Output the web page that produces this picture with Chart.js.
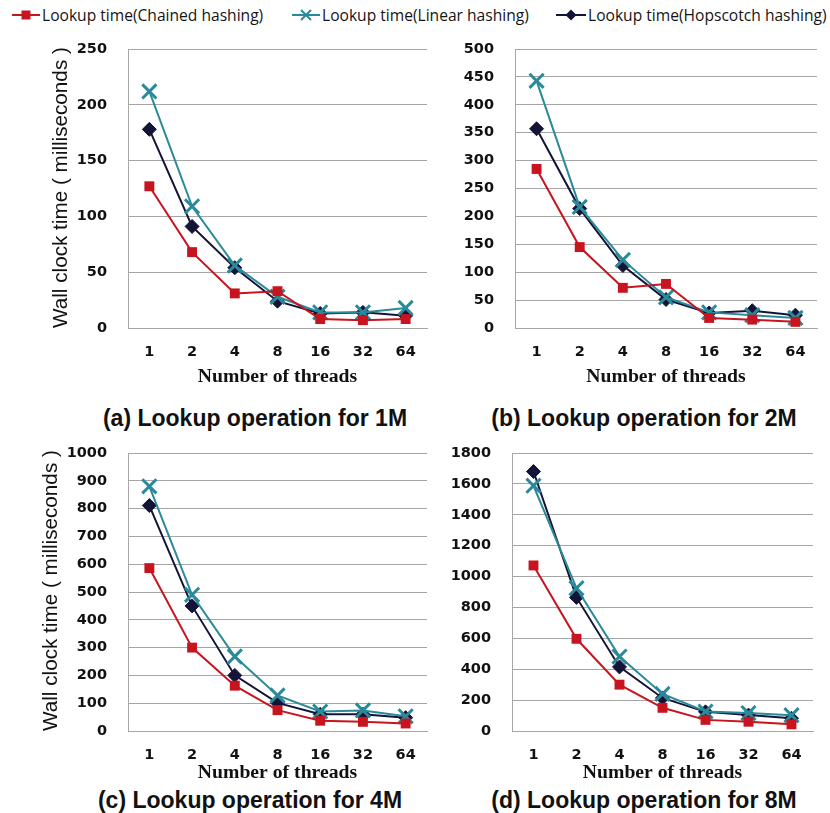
<!DOCTYPE html>
<html>
<head>
<meta charset="utf-8">
<script src="https://cdn.jsdelivr.net/npm/chart.js@4.4.0/dist/chart.umd.min.js"></script>
<style>
  body { margin: 0; background: #fff; }
  #page { position: relative; width: 830px; height: 813px; overflow: hidden; background: #fff; }
  #page canvas { position: absolute; }
  .leg { position: absolute; top: 4px; height: 22px; display: flex; align-items: center; font: 15.6px "Open Sans", sans-serif; color: #151515; white-space: nowrap; }
  .leg svg { margin-right: 2px; }
  .sub { position: absolute; width: 360px; text-align: center; font: bold 23px "Liberation Sans", Arial, sans-serif; line-height: 26px; color: #111; white-space: nowrap; }
</style>
</head>
<body>
<div id="page">
  <div class="leg" style="left:12px">
    <svg width="28" height="14"><line x1="0" y1="7" x2="28" y2="7" stroke="#c8141e" stroke-width="2"/><rect x="9.5" y="2.5" width="9" height="9" fill="#c8141e"/></svg>Lookup time(Chained hashing)
  </div>
  <div class="leg" style="left:292px">
    <svg width="28" height="14"><line x1="0" y1="7" x2="28" y2="7" stroke="#2b8a99" stroke-width="2"/><path d="M9 2 L19 12 M19 2 L9 12" stroke="#2b8a99" stroke-width="2"/></svg>Lookup time(Linear hashing)
  </div>
  <div class="leg" style="left:556px">
    <svg width="30" height="14"><line x1="0" y1="7" x2="30" y2="7" stroke="#141438" stroke-width="2"/><path d="M15 1.5 L20.5 7 L15 12.5 L9.5 7 Z" fill="#141438"/></svg>Lookup time(Hopscotch hashing)
  </div>

  <canvas id="c1M" width="440" height="358" style="left:0;top:36px"></canvas>
  <canvas id="c2M" width="390" height="358" style="left:440px;top:36px"></canvas>
  <canvas id="c4M" width="440" height="345" style="left:0;top:440px"></canvas>
  <canvas id="c8M" width="390" height="345" style="left:440px;top:440px"></canvas>

  <div class="sub" style="left:75px;top:405px">(a) Lookup operation for 1M</div>
  <div class="sub" style="left:464px;top:405px">(b) Lookup operation for 2M</div>
  <div class="sub" style="left:70px;top:787px">(c) Lookup operation for 4M</div>
  <div class="sub" style="left:464px;top:787px">(d) Lookup operation for 8M</div>
</div>

<script>
// x categories (number of threads)
const threads = ["1", "2", "4", "8", "16", "32", "64"];

// 1M keys
const chained1M = [127, 68, 31, 33, 8, 7, 8];
const linear1M = [212, 109, 56, 28, 14, 14, 18];
const hop1M = [178, 91, 54, 24, 13, 14, 11];

// 2M keys
const chained2M = [285, 145, 72, 79, 18, 15, 11];
const linear2M = [443, 217, 122, 55, 28, 23, 18];
const hop2M = [357, 214, 112, 51, 27, 31, 23];

// 4M keys
const chained4M = [586, 300, 163, 75, 37, 33, 27];
const linear4M = [880, 490, 268, 128, 70, 74, 53];
const hop4M = [811, 450, 200, 101, 60, 60, 48];

// 8M keys
const chained8M = [1072, 597, 300, 150, 72, 60, 43];
const linear8M = [1588, 925, 482, 240, 126, 116, 102];
const hop8M = [1680, 865, 415, 214, 124, 103, 82];

const RED = "#c8141e";
const TEAL = "#2b8a99";
const NAVY = "#141438";
const GRID = "#a6a6a6";

function makeChart(id, chained, linear, hop, yMax, yStep, g) {
  const ctx = document.getElementById(id).getContext("2d");
  return new Chart(ctx, {
    type: "line",
    data: {
      labels: threads,
      datasets: [
        { label: "Lookup time(Chained hashing)", data: chained, borderColor: RED, backgroundColor: RED,
          borderWidth: 2, pointStyle: "rect", pointRadius: 7, pointBorderWidth: 0 },
        { label: "Lookup time(Linear hashing)", data: linear, borderColor: TEAL, backgroundColor: TEAL,
          borderWidth: 2, pointStyle: "crossRot", pointRadius: 10, pointBorderWidth: 3 },
        { label: "Lookup time(Hopscotch hashing)", data: hop, borderColor: NAVY, backgroundColor: NAVY,
          borderWidth: 2, pointStyle: "rectRot", pointRadius: 7, pointBorderWidth: 1 }
      ]
    },
    options: {
      responsive: false,
      animation: false,
      devicePixelRatio: 1,
      layout: { padding: { left: 0, top: g.padTop, right: g.padRight, bottom: 0 } },
      plugins: { legend: { display: false }, tooltip: { enabled: false } },
      scales: {
        x: {
          offset: true,
          grid: { display: false, drawTicks: false },
          border: { display: true, color: GRID },
          ticks: { color: "#111", padding: 16, font: { family: "DejaVu Sans", weight: "bold", size: 14.5 } },
          title: { display: true, text: "Number of threads", color: "#111",
                   font: { family: "Liberation Serif", weight: "bold", size: 19.7 },
                   padding: { top: 0, bottom: g.xTitleBottom } },
          afterFit: s => { s.height = g.xHeight; s.paddingLeft = 0; s.paddingRight = 0; }
        },
        y: {
          min: 0, max: yMax,
          grid: { color: GRID, drawTicks: false },
          border: { display: true, color: GRID },
          ticks: { stepSize: yStep, color: "#111", padding: 21, callback: v => String(v),
                   font: { family: "DejaVu Sans", weight: "bold", size: 14.5 } },
          title: { display: g.yTitle, text: "Wall clock time ( milliseconds )", color: "#111",
                   align: "start",
                   font: { family: "Liberation Sans", size: 20.7 },
                   padding: { top: g.yTitlePad, bottom: 0 } },
          afterFit: s => { s.width = g.yWidth; s.paddingTop = 0; s.paddingBottom = 0; }
        }
      }
    }
  });
}

makeChart("c1M", chained1M, linear1M, hop1M, 250, 50,
  { padTop: 11, padRight: 4, yWidth: 128, xHeight: 66, xTitleBottom: 5.6, yTitle: true, yTitlePad: 49 });
makeChart("c2M", chained2M, linear2M, hop2M, 500, 50,
  { padTop: 12, padRight: 6, yWidth: 75, xHeight: 66, xTitleBottom: 5.6, yTitle: false, yTitlePad: 0 });
makeChart("c4M", chained4M, linear4M, hop4M, 1000, 100,
  { padTop: 11, padRight: 13, yWidth: 128, xHeight: 54, xTitleBottom: 0.6, yTitle: true, yTitlePad: 39 });
makeChart("c8M", chained8M, linear8M, hop8M, 1800, 200,
  { padTop: 11, padRight: 17, yWidth: 72, xHeight: 54, xTitleBottom: 0.6, yTitle: false, yTitlePad: 0 });
</script>
</body>
</html>
